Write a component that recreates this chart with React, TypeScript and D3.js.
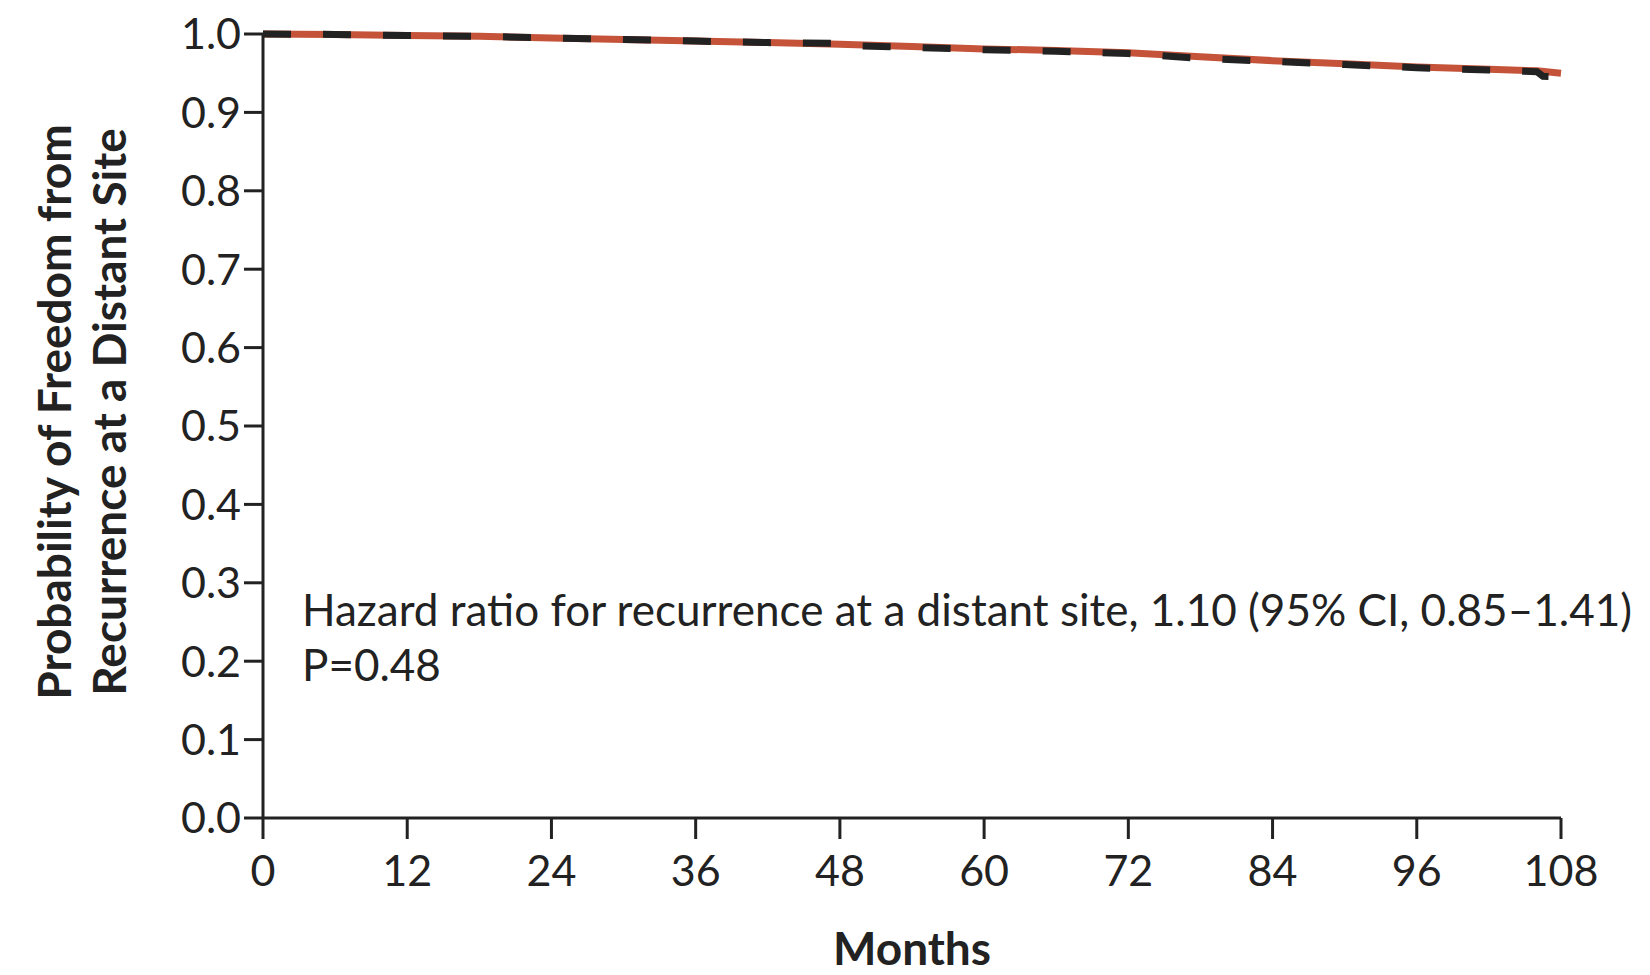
import React from 'react';
import * as d3 from 'd3';

// survival estimates
const monthsA = [0, 6, 12, 18, 24, 30, 36, 42, 48, 54, 60, 66, 72, 78, 84, 90, 96, 102, 106, 108];
const survivalA = [1.0, 0.9995, 0.998, 0.997, 0.995, 0.993, 0.991, 0.989, 0.987, 0.984, 0.981, 0.979, 0.976, 0.971, 0.966, 0.962, 0.958, 0.955, 0.953, 0.95];

const monthsB = [0, 6, 12, 18, 24, 30, 36, 42, 48, 49, 54, 60, 66, 72, 78, 84, 90, 96, 102, 106, 106.5, 108];
const survivalB = [1.0, 0.9995, 0.998, 0.997, 0.995, 0.993, 0.991, 0.989, 0.988, 0.985, 0.983, 0.98, 0.978, 0.975, 0.969, 0.965, 0.961, 0.957, 0.954, 0.952, 0.946, 0.945];

const xTicks = [0, 12, 24, 36, 48, 60, 72, 84, 96, 108];
const yTicks = [0, 0.1, 0.2, 0.3, 0.4, 0.5, 0.6, 0.7, 0.8, 0.9, 1.0];

const W = 1650;
const H = 975;
const margin = { top: 34, right: 89, bottom: 157, left: 263 };

const axisColor = '#222';
const redColor = '#c4533a';
const labelFont = 'Lato, "Open Sans", sans-serif';

export default function App() {
    const x = d3.scaleLinear().domain([0, 108]).range([margin.left, W - margin.right]);
    const y = d3.scaleLinear().domain([0, 1]).range([H - margin.bottom, margin.top]);

    const line = d3.line<[number, number]>()
        .x(d => x(d[0]))
        .y(d => y(d[1]));

    const ptsA = monthsA.map((m, i) => [m, survivalA[i]] as [number, number]);
    const ptsB = monthsB.map((m, i) => [m, survivalB[i]] as [number, number]);

    const y0 = y(0);
    const x0 = x(0);

    return (
        <svg width={W} height={H} style={{ position: 'absolute', left: 0, top: 0, background: '#fff' }}>
            {/* curves */}
            <path d={line(ptsA) || ''} fill="none" stroke={redColor} strokeWidth={7} />
            <path d={line(ptsB) || ''} fill="none" stroke="#222" strokeWidth={7}
                strokeDasharray="28,32" />

            {/* y axis */}
            <line x1={x0} x2={x0} y1={y(1)} y2={y0} stroke={axisColor} strokeWidth={3} />
            {yTicks.map(t => (
                <g key={t}>
                    <line x1={x0 - 19} x2={x0} y1={y(t)} y2={y(t)} stroke={axisColor} strokeWidth={3} />
                    <text x={x0 - 22} y={y(t)} dy="0.36em" textAnchor="end"
                        fontFamily={labelFont} fontSize={43} fill={axisColor}>
                        {t.toFixed(1)}
                    </text>
                </g>
            ))}

            {/* x axis */}
            <line x1={x0} x2={x(108)} y1={y0} y2={y0} stroke={axisColor} strokeWidth={3} />
            {xTicks.map(t => (
                <g key={t}>
                    <line x1={x(t)} x2={x(t)} y1={y0} y2={y0 + 21} stroke={axisColor} strokeWidth={3} />
                    <text x={x(t)} y={886} textAnchor="middle"
                        fontFamily={labelFont} fontSize={43} fill={axisColor}>
                        {t}
                    </text>
                </g>
            ))}

            {/* axis titles */}
            <text x={912} y={965} textAnchor="middle" fontFamily={labelFont} fontSize={46}
                fontWeight="bold" fill={axisColor}>Months</text>
            <g transform="translate(0,412) rotate(-90)">
                <text x={0} y={71} textAnchor="middle" fontFamily={labelFont} fontSize={46}
                    fontWeight="bold" fill={axisColor}>Probability of Freedom from</text>
                <text x={0} y={126} textAnchor="middle" fontFamily={labelFont} fontSize={46}
                    fontWeight="bold" fill={axisColor}>Recurrence at a Distant Site</text>
            </g>

            {/* annotation */}
            <text x={302} y={626} fontFamily={labelFont} fontSize={44} fill={axisColor}
                textLength={1330} lengthAdjust="spacingAndGlyphs">
                Hazard ratio for recurrence at a distant site, 1.10 (95% CI, 0.85–1.41)
            </text>
            <text x={302} y={681} fontFamily={labelFont} fontSize={44} fill={axisColor}>
                P=0.48
            </text>
        </svg>
    );
}
